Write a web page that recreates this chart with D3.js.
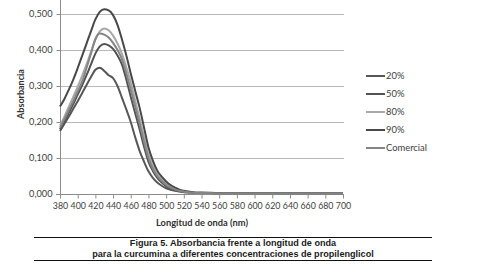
<!DOCTYPE html>
<html>
<head>
<meta charset="utf-8">
<script src="https://cdn.jsdelivr.net/npm/d3@7"></script>
<style>
  body { margin: 0; background: #fff; }
  svg { display: block; }
</style>
</head>
<body>
<div id="chart"></div>
<script>
// wavelengths (nm)
var wavelengths = [380,385,390,395,400,405,410,415,420,425,430,435,440,445,450,455,460,465,470,475,480,485,490,495,500,505,510,515,520,525,530,535,540,560,580,600,620,640,660,680,700];

var s20  = [.175,.195,.215,.237,.258,.280,.303,.325,.345,.351,.342,.330,.322,.300,.268,.235,.200,.158,.120,.090,.063,.045,.032,.023,.016,.012,.009,.007,.005,.004,.003,.003,.003,.002,.002,.002,.002,.002,.002,.002,.002];
var s50  = [.180,.202,.226,.250,.276,.302,.330,.360,.390,.410,.417,.413,.403,.385,.360,.318,.270,.225,.180,.132,.090,.064,.045,.032,.022,.016,.012,.008,.006,.005,.004,.003,.003,.002,.002,.002,.002,.002,.002,.002,.002];
var s80  = [.190,.215,.243,.270,.298,.328,.360,.395,.430,.452,.460,.455,.440,.418,.390,.352,.310,.260,.210,.158,.110,.078,.055,.040,.028,.020,.014,.010,.007,.005,.004,.003,.003,.002,.002,.002,.002,.002,.002,.002,.002];
var s90  = [.243,.264,.290,.318,.350,.384,.418,.452,.485,.506,.513,.510,.497,.470,.430,.385,.335,.287,.240,.185,.130,.093,.065,.048,.035,.025,.018,.012,.009,.007,.005,.004,.004,.003,.003,.003,.003,.003,.003,.003,.003];
var sCom = [.185,.208,.233,.258,.285,.312,.350,.390,.430,.446,.443,.435,.420,.400,.375,.335,.290,.243,.195,.145,.100,.070,.050,.036,.025,.018,.013,.009,.007,.005,.004,.003,.003,.002,.002,.002,.002,.002,.002,.002,.002];

var seriesNames = ["20%", "50%", "80%", "90%", "Comercial"];
var seriesValues = [s20, s50, s80, s90, sCom];
var seriesColors = ["#575757", "#525252", "#a8a8a8", "#484848", "#858585"];

var xTicks = [380,400,420,440,460,480,500,520,540,560,580,600,620,640,660,680,700];
var yTicks = [0, 0.1, 0.2, 0.3, 0.4, 0.5];

const width = 490, height = 279;
const plotLeft = 60, plotRight = 343, plotTop = 0, plotBottom = 194;

const svg = d3.select("#chart")
  .append("svg")
  .attr("width", width)
  .attr("height", height);

const x = d3.scaleLinear().domain([380, 700]).range([plotLeft, plotRight]);
const y = d3.scaleLinear().domain([0, 0.539]).range([plotBottom, plotTop]);

const esLocale = d3.formatLocale({decimal: ",", thousands: ".", grouping: [3], currency: ["", "€"]});
const fmt = esLocale.format(".3f");

// gridlines
svg.append("g")
  .selectAll("line")
  .data(yTicks.filter(d => d > 0))
  .enter()
  .append("line")
  .attr("x1", plotLeft).attr("x2", plotRight + 1)
  .attr("y1", d => Math.round(y(d)) + 0.5)
  .attr("y2", d => Math.round(y(d)) + 0.5)
  .attr("stroke", "#b8b8b8")
  .attr("stroke-width", 1);

// y axis
const yAxis = svg.append("g")
  .attr("transform", "translate(" + (plotLeft + 0.5) + ",0)")
  .call(d3.axisLeft(y).tickValues(yTicks).tickFormat(fmt).tickSize(4).tickPadding(4));
yAxis.select(".domain").attr("stroke", "#8c8c8c").attr("d", "M0,0V" + plotBottom);
yAxis.selectAll(".tick line").attr("stroke", "#8c8c8c");
yAxis.selectAll("text")
  .attr("font-family", "Lato, 'Open Sans', sans-serif")
  .attr("font-size", 9.2)
  .attr("fill", "#404040");

// x axis
const xAxis = svg.append("g")
  .attr("transform", "translate(0," + (plotBottom + 0.5) + ")")
  .call(d3.axisBottom(x).tickValues(xTicks).tickFormat(d3.format("d")).tickSize(4).tickPadding(4));
xAxis.select(".domain").attr("stroke", "#8c8c8c").attr("d", "M" + (plotLeft - 4) + ",0H" + (plotRight + 1));
xAxis.selectAll(".tick line").attr("stroke", "#8c8c8c");
xAxis.selectAll("text")
  .attr("font-family", "Lato, 'Open Sans', sans-serif")
  .attr("font-size", 8.8)
  .attr("fill", "#404040");

// lines
const line = d3.line()
  .x((d, i) => x(wavelengths[i]))
  .y(d => y(d))
  .curve(d3.curveMonotoneX);

svg.append("g")
  .selectAll("path")
  .data(seriesValues)
  .enter()
  .append("path")
  .attr("d", line)
  .attr("fill", "none")
  .attr("stroke", (d, i) => seriesColors[i])
  .attr("stroke-width", 2)
  .attr("stroke-linejoin", "round");

// legend
const legend = svg.append("g")
  .selectAll("g")
  .data(seriesNames)
  .enter()
  .append("g")
  .attr("transform", (d, i) => "translate(366," + (76 + i * 18) + ")");
legend.append("line")
  .attr("x1", 0).attr("x2", 19)
  .attr("stroke", (d, i) => seriesColors[i])
  .attr("stroke-width", 2);
legend.append("text")
  .attr("x", 20)
  .attr("dy", "0.35em")
  .attr("font-family", "Lato, 'Open Sans', sans-serif")
  .attr("font-size", 9.4)
  .attr("fill", "#404040")
  .text(d => d);

// axis titles
svg.append("text")
  .attr("x", 202).attr("y", 226)
  .attr("text-anchor", "middle")
  .attr("font-family", "Lato, 'Open Sans', sans-serif")
  .attr("font-weight", "bold")
  .attr("font-size", 9.3)
  .attr("fill", "#303030")
  .text("Longitud de onda (nm)");

svg.append("text")
  .attr("transform", "translate(24,94) rotate(-90)")
  .attr("text-anchor", "middle")
  .attr("font-family", "Lato, 'Open Sans', sans-serif")
  .attr("font-weight", "bold")
  .attr("font-size", 9)
  .attr("fill", "#303030")
  .text("Absorbancia");

// caption
svg.append("line")
  .attr("x1", 34).attr("x2", 432).attr("y1", 237.5).attr("y2", 237.5)
  .attr("stroke", "#111").attr("stroke-width", 1);
svg.append("line")
  .attr("x1", 34).attr("x2", 432).attr("y1", 260.5).attr("y2", 260.5)
  .attr("stroke", "#111").attr("stroke-width", 1);

const caption = ["Figura 5. Absorbancia frente a longitud de onda",
                 "para la curcumina a diferentes concentraciones de propilenglicol"];
svg.append("g")
  .selectAll("text")
  .data(caption)
  .enter()
  .append("text")
  .attr("x", 233)
  .attr("y", (d, i) => 245.5 + i * 11.4)
  .attr("text-anchor", "middle")
  .attr("font-family", "'Liberation Sans', Arial, sans-serif")
  .attr("font-weight", "bold")
  .attr("font-size", 9.1)
  .attr("fill", "#1a1a1a")
  .text(d => d);
</script>
</body>
</html>
